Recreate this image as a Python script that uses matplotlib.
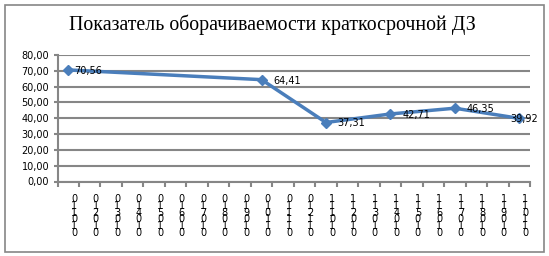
import matplotlib
matplotlib.use("Agg")
import matplotlib.pyplot as plt
import matplotlib.transforms as mtransforms
from matplotlib.patches import Rectangle
import numpy as np

# ---- data ----
title = "Показатель оборачиваемости краткосрочной ДЗ"
categories = ["011010", "012010", "013010", "014010", "015010", "016010",
              "017010", "018010", "019010", "010110", "011110", "012110",
              "111010", "112010", "113010", "114010", "115010", "116010",
              "117010", "118010", "119010", "110110"]
values = [70.56, None, None, None, None, None, None, None, None, 64.41,
          None, None, 37.31, None, None, 42.71, None, None, 46.35, None,
          None, 39.92]
y_ticks = [0, 10, 20, 30, 40, 50, 60, 70, 80]

W, H = 549, 256
fig = plt.figure(figsize=(W / 100, H / 100), dpi=100)
fig.patch.set_facecolor("white")

# chart border
fig.patches.append(Rectangle((5 / W, 1 - 252 / H), (544 - 5) / W, (252 - 4.5) / H,
                             transform=fig.transFigure, fill=False,
                             edgecolor="#868686", linewidth=1.2))

left, right, top, bottom = 57.5, 530, 55, 181.5
ax = fig.add_axes([left / W, 1 - bottom / H, (right - left) / W, (bottom - top) / H])

grid_c = "#868686"
x = np.arange(len(categories))
pts = [(i, v) for i, v in zip(x, values) if v is not None]
px = [p[0] for p in pts]
py = [p[1] for p in pts]
ax.plot(px, py, color="#4A7EBB", linewidth=2.5, marker="D", markersize=5.5,
        markerfacecolor="#4A7EBB", markeredgecolor="#4A7EBB", zorder=3)

# label horizontal offsets (points) – first and last shifted as in the original
n_pts = len(pts)
for k, (i, v) in enumerate(pts):
    dx = 8.5
    if k == 0:
        dx = 4.3
    elif k == n_pts - 1:
        dx = -6.5
    ax.annotate(f"{v:.2f}".replace(".", ","), (i, v), xytext=(dx, -0.7),
                textcoords="offset points", va="center", ha="left",
                fontsize=7, family="DejaVu Sans", color="black", zorder=4,
                annotation_clip=False)

ax.set_xlim(-0.5, len(categories) - 0.5)
ax.set_ylim(0, 80)
ax.set_yticks(y_ticks)
ax.set_yticklabels([f"{t:.2f}".replace(".", ",") for t in y_ticks],
                   fontsize=7, family="DejaVu Sans")
ax.yaxis.grid(True, color=grid_c, linewidth=1.5)
ax.set_axisbelow(True)

# minor ticks between categories
ax.set_xticks(np.arange(-0.5, len(categories), 1), minor=True)
ax.set_xticks(x)
ax.set_xticklabels(["\n".join(c) for c in categories], fontsize=7,
                   family="DejaVu Sans", linespacing=0.6, va="top")
ax.tick_params(axis="x", which="major", length=0, pad=9)
ax.tick_params(axis="x", which="minor", length=3.5, width=1.5, color=grid_c)
ax.tick_params(axis="y", length=3, width=1.5, color=grid_c, pad=3)
offset = mtransforms.ScaledTranslation(6 / 100, 0, fig.dpi_scale_trans)
for lbl in ax.get_xticklabels():
    lbl.set_transform(lbl.get_transform() + offset)

for s in ["top", "right"]:
    ax.spines[s].set_visible(False)
for s in ["left", "bottom"]:
    ax.spines[s].set_color(grid_c)
    ax.spines[s].set_linewidth(1.5)

fig.text(272 / W, 1 - 24.5 / H, title, ha="center", va="center",
         fontsize=14.3, family="Liberation Serif", color="black")

fig.savefig("out.png", dpi=100, facecolor="white")
